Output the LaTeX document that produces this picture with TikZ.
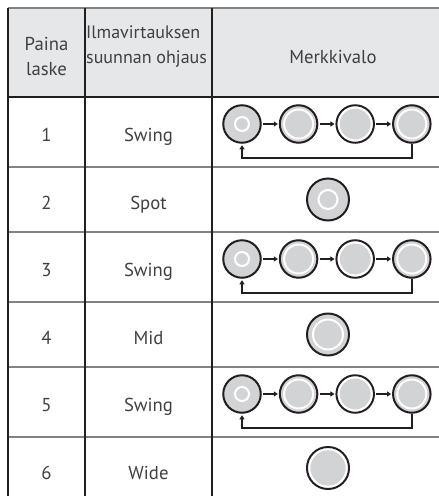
\documentclass[tikz,border=0pt]{standalone}
\usepackage{fontspec}
\setmainfont{PT Sans}
\usetikzlibrary{arrows.meta}
\definecolor{ink}{HTML}{231F20}
\definecolor{txt}{HTML}{404040}
\definecolor{hdr}{HTML}{E6E7E8}
\definecolor{rulegray}{HTML}{808285}
\definecolor{led}{HTML}{D1D3D4}
\tikzset{
  cell/.style={text=txt, font=\fontsize{18.7}{25}\selectfont, inner sep=0pt, anchor=base},
  hcell/.style={cell, font=\fontsize{18}{25}\selectfont},
  hline/.style={rulegray, line width=1.2pt},
  vline/.style={ink, line width=1.2pt},
  seqled/.style={circle, draw=ink, fill=led, line width=2pt, minimum size=37.5pt, inner sep=0pt},
  bigled/.style={circle, draw=ink, fill=led, line width=2pt, minimum size=42pt, inner sep=0pt},
  ring/.style={white, line width=2pt},
  stepar/.style={ink, line width=1.6pt, -{Triangle[length=4pt,width=5pt]}, shorten <=1.5pt, shorten >=1pt},
  backar/.style={ink, line width=1.8pt, -{Triangle[length=4pt,width=5pt]}, shorten >=1.5pt},
}
\begin{document}
\begin{tikzpicture}[x=1pt,y=-1pt]
\useasboundingbox (0,0) rectangle (439,496);
\begin{scope}
\clip (0,0) rectangle (439,496);
% header background
\fill[hdr] (8,8) rectangle (440,97);
% horizontal rules
\draw[hline] (8,8) -- (440,8);
\foreach \yy in {167,232,302,367,437} \draw[hline] (8,\yy) -- (440,\yy);
\draw[vline] (8,97) -- (440,97);
% vertical rules
\foreach \xx in {8,85,212} \draw[vline] (\xx,8) -- (\xx,497);

% header texts
\node[cell] (h1a) at (46.5,50) {Paina};
\node[cell] (h1b) at (46.5,75) {laske};
\node[hcell, anchor=base west] (h2a) at (86,38) {Ilmavirtauksen};
\node[hcell, anchor=base west] (h2b) at (86,63) {suunnan ohjaus};
\node[cell] (h3) at (333,63) {Merkkivalo};

% rows: numbers and modes
\node[cell] (n1) at (46.5,141.5) {1};
\node[cell] (m1) at (148.5,141.5) {Swing};
\node[cell] (n2) at (46.5,209) {2};
\node[cell] (m2) at (148.5,209) {Spot};
\node[cell] (n3) at (46.5,276.5) {3};
\node[cell] (m3) at (148.5,276.5) {Swing};
\node[cell] (n4) at (46.5,344) {4};
\node[cell] (m4) at (148.5,344) {Mid};
\node[cell] (n5) at (46.5,411.5) {5};
\node[cell] (m5) at (148.5,411.5) {Swing};
\node[cell] (n6) at (46.5,479) {6};
\node[cell] (m6) at (148.5,479) {Wide};

% sequence rows
\foreach \r/\cy in {1/124,3/259,5/394}{
  \node[seqled] (a\r) at (242,\cy) {};
  \node[seqled] (b\r) at (298.6,\cy) {};
  \node[seqled] (c\r) at (355.2,\cy) {};
  \node[seqled] (d\r) at (411.8,\cy) {};
  \draw[ring] (a\r.center) circle (7);
  \draw[ring] (b\r.center) circle (14.5);
  \draw[ring] (c\r.center) circle (16.5);
  \draw[ring] (d\r.center) circle (14.5);
  \draw[stepar] (a\r.east) -- (b\r.west);
  \draw[stepar] (b\r.east) -- (c\r.west);
  \draw[stepar] (c\r.east) -- (d\r.west);
  \draw[backar] (d\r.south) -- ++(0,14) -| (a\r.south);
}

% single indicators
\node[bigled] (s2) at (328,199.5) {};
\draw[ring] (s2.center) circle (9.5);
\node[bigled] (s4) at (328,334.5) {};
\draw[ring] (s4.center) circle (15);
\node[bigled] (s6) at (328,468) {};
\draw[ring] (s6.center) circle (18.7);
\end{scope}
\end{tikzpicture}
\end{document}
